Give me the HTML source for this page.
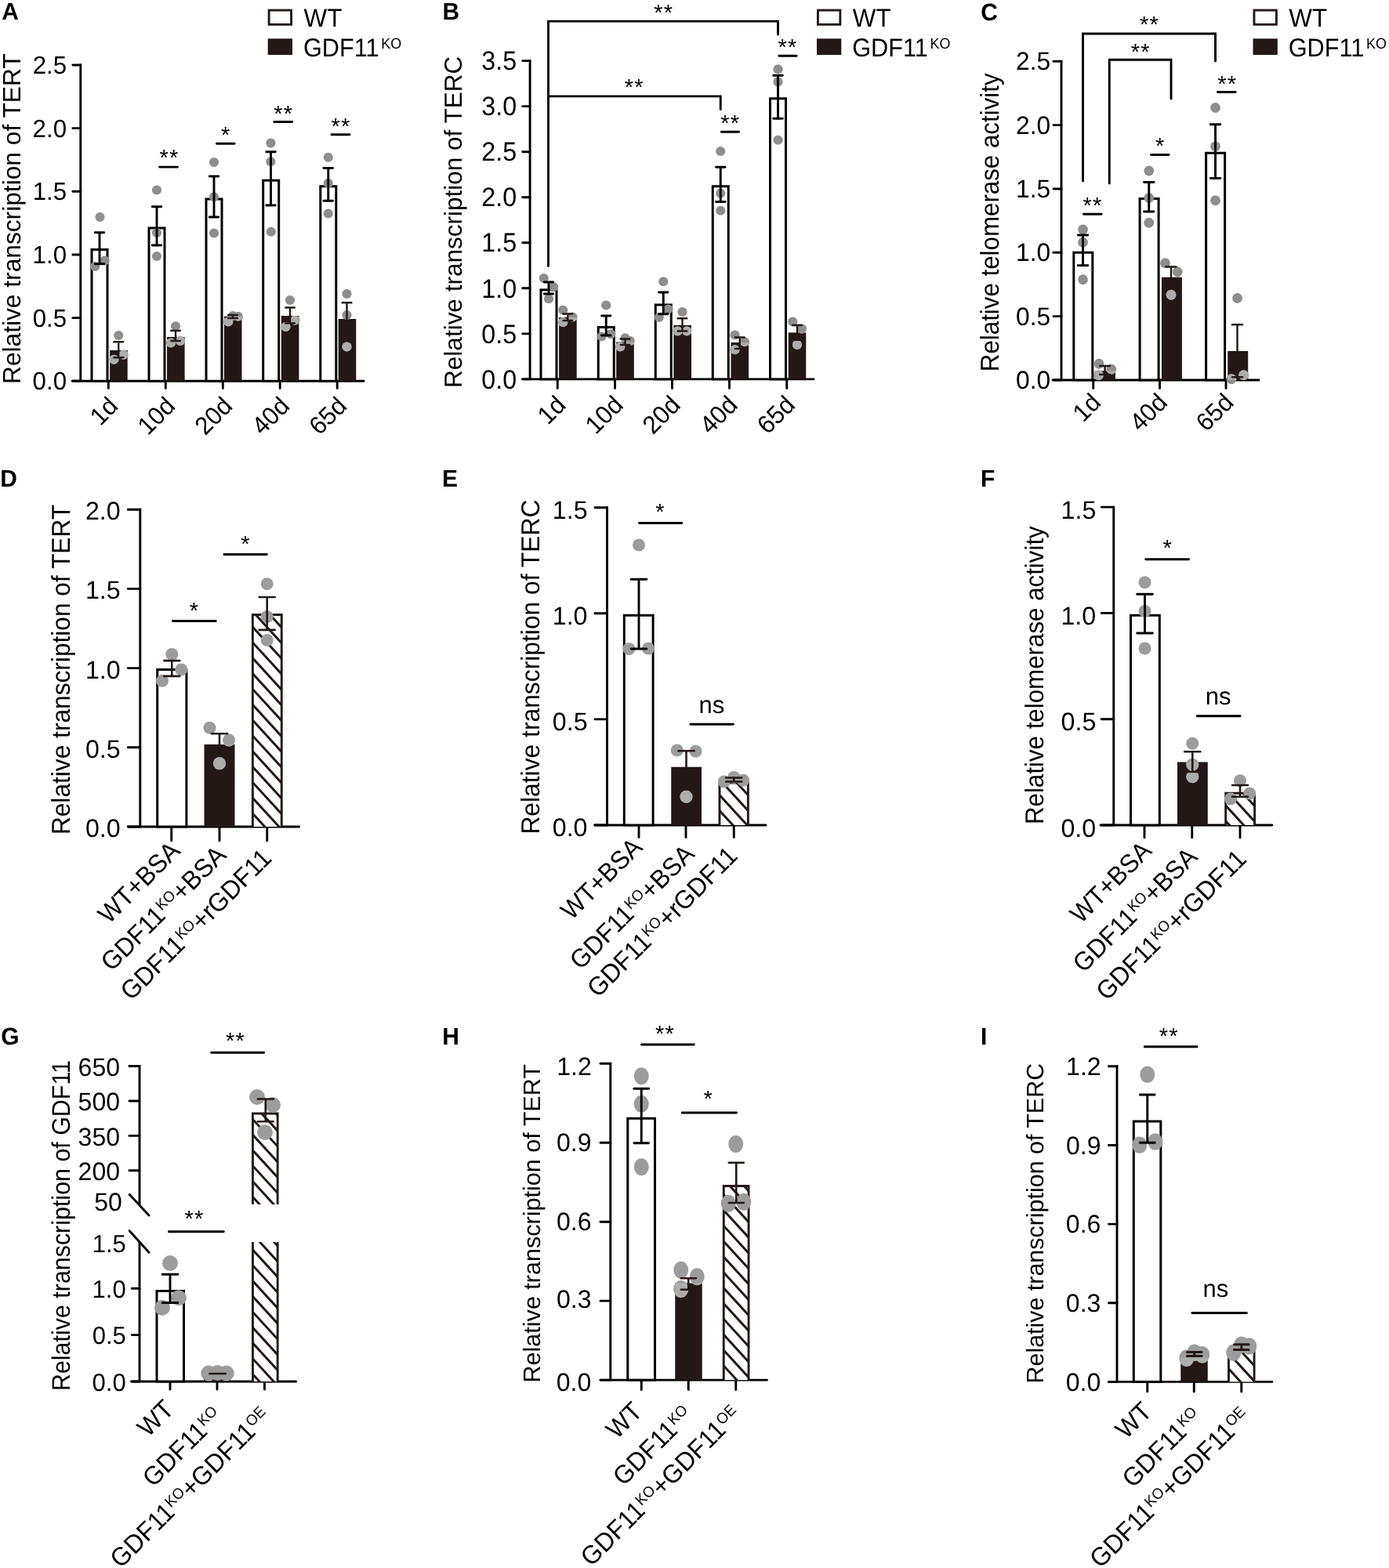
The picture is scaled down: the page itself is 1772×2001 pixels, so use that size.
<!DOCTYPE html>
<html lang="en"><head><meta charset="utf-8"><title>Figure</title><style>html,body{margin:0;padding:0;background:#fff}body{width:1772px;height:2001px;overflow:hidden}svg{display:block}</style></head><body>
<svg xmlns="http://www.w3.org/2000/svg" width="1772" height="2001" viewBox="0 0 1772 2001" font-family='"Liberation Sans", Arial, Helvetica, sans-serif' fill="#000000" text-rendering="geometricPrecision"><defs><clipPath id="c1"><rect x="140.1" y="447" width="22.6" height="39.3"/><rect x="213" y="430" width="22.6" height="56.3"/><rect x="285.9" y="403.75" width="22.6" height="82.55"/><rect x="358.8" y="403" width="22.6" height="83.3"/><rect x="431.7" y="407" width="22.6" height="79.3"/></clipPath><clipPath id="c2"><rect x="713.1" y="405" width="22.6" height="78.9"/><rect x="786.2" y="436.5" width="22.6" height="47.4"/><rect x="859.4" y="415" width="22.6" height="68.9"/><rect x="932.5" y="437" width="22.6" height="46.9"/><rect x="1005.7" y="424.4" width="22.6" height="59.5"/></clipPath><clipPath id="c3"><rect x="1396.9" y="473.3" width="26" height="11.7"/><rect x="1481.9" y="353.75" width="26" height="131.25"/><rect x="1566.2" y="448" width="26" height="37"/></clipPath><clipPath id="c4"><rect x="322.35" y="784.5" width="36.9" height="270.5"/></clipPath><clipPath id="c5"><rect x="260.5" y="950" width="39" height="105"/></clipPath><clipPath id="c6"><rect x="917.95" y="998.95" width="36.4" height="54.05"/></clipPath><clipPath id="c7"><rect x="856.25" y="978.75" width="38.75" height="74.25"/></clipPath><clipPath id="c8"><rect x="1563.65" y="1012.2" width="36.9" height="40.8"/></clipPath><clipPath id="c9"><rect x="1502" y="972.5" width="38.75" height="80.5"/></clipPath><clipPath id="c10"><rect x="322.45" y="1421.05" width="31.7" height="115.95"/></clipPath><clipPath id="c11"><rect x="322.45" y="1585" width="31.7" height="178"/></clipPath><clipPath id="c12"><rect x="923.25" y="1513.45" width="31.8" height="247.65"/></clipPath><clipPath id="c13"><rect x="861.25" y="1637.5" width="34.5" height="123.6"/></clipPath><clipPath id="c14"><rect x="1567.45" y="1723.95" width="32.6" height="39.45"/></clipPath><clipPath id="c15"><rect x="1506.25" y="1732.5" width="34.5" height="30.9"/></clipPath></defs>
<text transform="translate(2.35 25.31) scale(0.9770 1)" font-size="30.7" font-weight="bold">A</text>
<text transform="translate(26.2 490.01) rotate(-90)" font-size="32" textLength="421.62" lengthAdjust="spacingAndGlyphs">Relative transcription of TERT</text>
<rect x="343.15" y="13.05" width="28.4" height="18.2" fill="#fff" stroke="#231815" stroke-width="2.9"/>
<rect x="341.7" y="49.3" width="31.3" height="20.7" fill="#231815"/>
<text transform="translate(387.54 34.4) scale(0.9575 1)" font-size="32.8">WT</text>
<text transform="translate(386.97 72.4) scale(0.9350 1)" font-size="32.8">GDF11<tspan font-size="19.19" dx="2.95" dy="-10.3">KO</tspan></text>
<line x1="102.8" y1="81.5" x2="102.8" y2="486.3" stroke="#000000" stroke-width="2.9"/>
<line x1="92.85" y1="486.3" x2="102.8" y2="486.3" stroke="#000000" stroke-width="2.9" stroke-linecap="round"/>
<text transform="translate(41.57 497.3) scale(0.9780 1)" font-size="32">0.0</text>
<line x1="92.85" y1="405.63" x2="102.8" y2="405.63" stroke="#000000" stroke-width="2.9" stroke-linecap="round"/>
<text transform="translate(41.65 416.63) scale(0.9780 1)" font-size="32">0.5</text>
<line x1="92.85" y1="324.96" x2="102.8" y2="324.96" stroke="#000000" stroke-width="2.9" stroke-linecap="round"/>
<text transform="translate(41.57 335.96) scale(0.9780 1)" font-size="32">1.0</text>
<line x1="92.85" y1="244.29" x2="102.8" y2="244.29" stroke="#000000" stroke-width="2.9" stroke-linecap="round"/>
<text transform="translate(41.65 255.13) scale(0.9780 1)" font-size="32">1.5</text>
<line x1="92.85" y1="163.62" x2="102.8" y2="163.62" stroke="#000000" stroke-width="2.9" stroke-linecap="round"/>
<text transform="translate(41.57 174.62) scale(0.9780 1)" font-size="32">2.0</text>
<line x1="92.85" y1="82.95" x2="102.8" y2="82.95" stroke="#000000" stroke-width="2.9" stroke-linecap="round"/>
<text transform="translate(41.65 93.95) scale(0.9780 1)" font-size="32">2.5</text>
<line x1="92.25" y1="486.3" x2="464.05" y2="486.3" stroke="#000000" stroke-width="2.9" stroke-linecap="round"/>
<line x1="138.3" y1="486.3" x2="138.3" y2="495.45" stroke="#000000" stroke-width="2.9" stroke-linecap="round"/>
<line x1="211.3" y1="486.3" x2="211.3" y2="495.45" stroke="#000000" stroke-width="2.9" stroke-linecap="round"/>
<line x1="284.3" y1="486.3" x2="284.3" y2="495.45" stroke="#000000" stroke-width="2.9" stroke-linecap="round"/>
<line x1="357.2" y1="486.3" x2="357.2" y2="495.45" stroke="#000000" stroke-width="2.9" stroke-linecap="round"/>
<line x1="430.2" y1="486.3" x2="430.2" y2="495.45" stroke="#000000" stroke-width="2.9" stroke-linecap="round"/>
<rect x="117" y="318.5" width="20" height="167.8" fill="#fff" stroke="#000000" stroke-width="3"/>
<rect x="190" y="291" width="20" height="195.3" fill="#fff" stroke="#000000" stroke-width="3"/>
<rect x="263" y="254" width="20" height="232.3" fill="#fff" stroke="#000000" stroke-width="3"/>
<rect x="335.7" y="230.2" width="20" height="256.1" fill="#fff" stroke="#000000" stroke-width="3"/>
<rect x="408.8" y="237.75" width="20" height="248.55" fill="#fff" stroke="#000000" stroke-width="3"/>
<rect x="140.1" y="447" width="22.6" height="39.3" fill="#231815"/>
<rect x="213" y="430" width="22.6" height="56.3" fill="#231815"/>
<rect x="285.9" y="403.75" width="22.6" height="82.55" fill="#231815"/>
<rect x="358.8" y="403" width="22.6" height="83.3" fill="#231815"/>
<rect x="431.7" y="407" width="22.6" height="79.3" fill="#231815"/>
<g fill="#8e8e8e"><circle cx="127.5" cy="277" r="6.1"/><circle cx="121.25" cy="340" r="6.1"/><circle cx="133.75" cy="332.5" r="6.1"/><circle cx="151.25" cy="428" r="6.1"/><circle cx="145.4" cy="458.8" r="6.1"/><circle cx="157.6" cy="452.7" r="6.1"/><circle cx="200" cy="242.5" r="6.1"/><circle cx="200" cy="297" r="6.1"/><circle cx="200" cy="327" r="6.1"/><circle cx="224" cy="416.25" r="6.1"/><circle cx="218" cy="437.5" r="6.1"/><circle cx="230" cy="435" r="6.1"/><circle cx="273" cy="207" r="6.1"/><circle cx="273" cy="251.25" r="6.1"/><circle cx="273" cy="297.5" r="6.1"/><circle cx="291.25" cy="410.5" r="6.1"/><circle cx="297" cy="403" r="6.1"/><circle cx="303.75" cy="403.75" r="6.1"/><circle cx="345.4" cy="182.6" r="6.1"/><circle cx="345.4" cy="206.3" r="6.1"/><circle cx="345.75" cy="295.75" r="6.1"/><circle cx="370" cy="383" r="6.1"/><circle cx="364.5" cy="417" r="6.1"/><circle cx="376.25" cy="408.75" r="6.1"/><circle cx="418.75" cy="200.75" r="6.1"/><circle cx="418.75" cy="233.75" r="6.1"/><circle cx="418.75" cy="272.5" r="6.1"/><circle cx="442.5" cy="375" r="6.1"/><circle cx="442.5" cy="402" r="6.1"/><circle cx="442.5" cy="442.5" r="6.1"/></g>
<g fill="#adadad" clip-path="url(#c1)"><circle cx="127.5" cy="277" r="6.1"/><circle cx="121.25" cy="340" r="6.1"/><circle cx="133.75" cy="332.5" r="6.1"/><circle cx="151.25" cy="428" r="6.1"/><circle cx="145.4" cy="458.8" r="6.1"/><circle cx="157.6" cy="452.7" r="6.1"/><circle cx="200" cy="242.5" r="6.1"/><circle cx="200" cy="297" r="6.1"/><circle cx="200" cy="327" r="6.1"/><circle cx="224" cy="416.25" r="6.1"/><circle cx="218" cy="437.5" r="6.1"/><circle cx="230" cy="435" r="6.1"/><circle cx="273" cy="207" r="6.1"/><circle cx="273" cy="251.25" r="6.1"/><circle cx="273" cy="297.5" r="6.1"/><circle cx="291.25" cy="410.5" r="6.1"/><circle cx="297" cy="403" r="6.1"/><circle cx="303.75" cy="403.75" r="6.1"/><circle cx="345.4" cy="182.6" r="6.1"/><circle cx="345.4" cy="206.3" r="6.1"/><circle cx="345.75" cy="295.75" r="6.1"/><circle cx="370" cy="383" r="6.1"/><circle cx="364.5" cy="417" r="6.1"/><circle cx="376.25" cy="408.75" r="6.1"/><circle cx="418.75" cy="200.75" r="6.1"/><circle cx="418.75" cy="233.75" r="6.1"/><circle cx="418.75" cy="272.5" r="6.1"/><circle cx="442.5" cy="375" r="6.1"/><circle cx="442.5" cy="402" r="6.1"/><circle cx="442.5" cy="442.5" r="6.1"/></g>
<line x1="127" y1="296.75" x2="127" y2="336.75" stroke="#000000" stroke-width="2.9"/>
<line x1="121.25" y1="296.75" x2="132.75" y2="296.75" stroke="#000000" stroke-width="2.9" stroke-linecap="round"/>
<line x1="121.25" y1="336.75" x2="132.75" y2="336.75" stroke="#000000" stroke-width="2.9" stroke-linecap="round"/>
<line x1="200" y1="263.75" x2="200" y2="313" stroke="#000000" stroke-width="2.9"/>
<line x1="194.25" y1="263.75" x2="205.75" y2="263.75" stroke="#000000" stroke-width="2.9" stroke-linecap="round"/>
<line x1="194.25" y1="313" x2="205.75" y2="313" stroke="#000000" stroke-width="2.9" stroke-linecap="round"/>
<line x1="273" y1="225" x2="273" y2="277" stroke="#000000" stroke-width="2.9"/>
<line x1="267.25" y1="225" x2="278.75" y2="225" stroke="#000000" stroke-width="2.9" stroke-linecap="round"/>
<line x1="267.25" y1="277" x2="278.75" y2="277" stroke="#000000" stroke-width="2.9" stroke-linecap="round"/>
<line x1="345.5" y1="193.8" x2="345.5" y2="262" stroke="#000000" stroke-width="2.9"/>
<line x1="339.75" y1="193.8" x2="351.25" y2="193.8" stroke="#000000" stroke-width="2.9" stroke-linecap="round"/>
<line x1="339.75" y1="262" x2="351.25" y2="262" stroke="#000000" stroke-width="2.9" stroke-linecap="round"/>
<line x1="418.75" y1="214.5" x2="418.75" y2="256.25" stroke="#000000" stroke-width="2.9"/>
<line x1="413" y1="214.5" x2="424.5" y2="214.5" stroke="#000000" stroke-width="2.9" stroke-linecap="round"/>
<line x1="413" y1="256.25" x2="424.5" y2="256.25" stroke="#000000" stroke-width="2.9" stroke-linecap="round"/>
<line x1="151.25" y1="436.25" x2="151.25" y2="456.2" stroke="#231815" stroke-width="2.4"/>
<line x1="145.45" y1="436.25" x2="157.05" y2="436.25" stroke="#231815" stroke-width="2.4" stroke-linecap="round"/>
<line x1="145.45" y1="456.2" x2="157.05" y2="456.2" stroke="#231815" stroke-width="2.4" stroke-linecap="round"/>
<line x1="224" y1="422" x2="224" y2="435" stroke="#231815" stroke-width="2.4"/>
<line x1="218.2" y1="422" x2="229.8" y2="422" stroke="#231815" stroke-width="2.4" stroke-linecap="round"/>
<line x1="218.2" y1="435" x2="229.8" y2="435" stroke="#231815" stroke-width="2.4" stroke-linecap="round"/>
<line x1="297" y1="402" x2="297" y2="406" stroke="#231815" stroke-width="2.4"/>
<line x1="291.2" y1="402" x2="302.8" y2="402" stroke="#231815" stroke-width="2.4" stroke-linecap="round"/>
<line x1="291.2" y1="406" x2="302.8" y2="406" stroke="#231815" stroke-width="2.4" stroke-linecap="round"/>
<line x1="370" y1="392.5" x2="370" y2="412.5" stroke="#231815" stroke-width="2.4"/>
<line x1="364.2" y1="392.5" x2="375.8" y2="392.5" stroke="#231815" stroke-width="2.4" stroke-linecap="round"/>
<line x1="364.2" y1="412.5" x2="375.8" y2="412.5" stroke="#231815" stroke-width="2.4" stroke-linecap="round"/>
<line x1="442.5" y1="386.25" x2="442.5" y2="428" stroke="#231815" stroke-width="2.4"/>
<line x1="436.7" y1="386.25" x2="448.3" y2="386.25" stroke="#231815" stroke-width="2.4" stroke-linecap="round"/>
<line x1="436.7" y1="428" x2="448.3" y2="428" stroke="#231815" stroke-width="2.4" stroke-linecap="round"/>
<line x1="203.55" y1="213.1" x2="226.55" y2="213.1" stroke="#000000" stroke-width="2.9" stroke-linecap="round"/>
<text transform="translate(203.39 211.24)" font-size="29" letter-spacing="1.2">**</text>
<line x1="276.45" y1="183.25" x2="299.05" y2="183.25" stroke="#000000" stroke-width="2.9" stroke-linecap="round"/>
<text transform="translate(282.05 182.24)" font-size="29">*</text>
<line x1="349.75" y1="155.5" x2="372.55" y2="155.5" stroke="#000000" stroke-width="2.9" stroke-linecap="round"/>
<text transform="translate(349.34 154.74)" font-size="29" letter-spacing="1.2">**</text>
<line x1="422.95" y1="171.75" x2="446.05" y2="171.75" stroke="#000000" stroke-width="2.9" stroke-linecap="round"/>
<text transform="translate(422.59 170.74)" font-size="29" letter-spacing="1.2">**</text>
<text transform="translate(152.3 520) rotate(-45) scale(0.9700 1)" font-size="32" text-anchor="end">1d</text>
<text transform="translate(225.3 520) rotate(-45) scale(0.9700 1)" font-size="32" text-anchor="end">10d</text>
<text transform="translate(298.3 520) rotate(-45) scale(0.9700 1)" font-size="32" text-anchor="end">20d</text>
<text transform="translate(371.2 520) rotate(-45) scale(0.9700 1)" font-size="32" text-anchor="end">40d</text>
<text transform="translate(444.2 520) rotate(-45) scale(0.9700 1)" font-size="32" text-anchor="end">65d</text>
<text transform="translate(564.58 25.31) scale(0.9770 1)" font-size="30.7" font-weight="bold">B</text>
<text transform="translate(588.6 494.9) rotate(-90)" font-size="31.5" textLength="423.05" lengthAdjust="spacingAndGlyphs">Relative transcription of TERC</text>
<rect x="1043.45" y="13.05" width="28.4" height="18.2" fill="#fff" stroke="#231815" stroke-width="2.9"/>
<rect x="1042" y="49.3" width="31.3" height="20.7" fill="#231815"/>
<text transform="translate(1087.84 34.4) scale(0.9575 1)" font-size="32.8">WT</text>
<text transform="translate(1087.27 72.4) scale(0.9350 1)" font-size="32.8">GDF11<tspan font-size="19.19" dx="2.95" dy="-10.3">KO</tspan></text>
<line x1="676.1" y1="76.17" x2="676.1" y2="483.9" stroke="#000000" stroke-width="2.9"/>
<line x1="666.75" y1="483.9" x2="676.1" y2="483.9" stroke="#000000" stroke-width="2.9" stroke-linecap="round"/>
<text transform="translate(614.21 495.59) scale(0.9500 1)" font-size="34">0.0</text>
<line x1="666.75" y1="425.86" x2="676.1" y2="425.86" stroke="#000000" stroke-width="2.9" stroke-linecap="round"/>
<text transform="translate(614.29 437.55) scale(0.9500 1)" font-size="34">0.5</text>
<line x1="666.75" y1="367.82" x2="676.1" y2="367.82" stroke="#000000" stroke-width="2.9" stroke-linecap="round"/>
<text transform="translate(614.21 379.51) scale(0.9500 1)" font-size="34">1.0</text>
<line x1="666.75" y1="309.78" x2="676.1" y2="309.78" stroke="#000000" stroke-width="2.9" stroke-linecap="round"/>
<text transform="translate(614.29 321.3) scale(0.9500 1)" font-size="34">1.5</text>
<line x1="666.75" y1="251.74" x2="676.1" y2="251.74" stroke="#000000" stroke-width="2.9" stroke-linecap="round"/>
<text transform="translate(614.21 263.43) scale(0.9500 1)" font-size="34">2.0</text>
<line x1="666.75" y1="193.7" x2="676.1" y2="193.7" stroke="#000000" stroke-width="2.9" stroke-linecap="round"/>
<text transform="translate(614.29 205.39) scale(0.9500 1)" font-size="34">2.5</text>
<line x1="666.75" y1="135.66" x2="676.1" y2="135.66" stroke="#000000" stroke-width="2.9" stroke-linecap="round"/>
<text transform="translate(614.21 147.35) scale(0.9500 1)" font-size="34">3.0</text>
<line x1="666.75" y1="77.62" x2="676.1" y2="77.62" stroke="#000000" stroke-width="2.9" stroke-linecap="round"/>
<text transform="translate(614.29 89.31) scale(0.9500 1)" font-size="34">3.5</text>
<line x1="666.45" y1="483.9" x2="1038.05" y2="483.9" stroke="#000000" stroke-width="2.9" stroke-linecap="round"/>
<line x1="711.25" y1="483.9" x2="711.25" y2="495.55" stroke="#000000" stroke-width="2.9" stroke-linecap="round"/>
<line x1="784.5" y1="483.9" x2="784.5" y2="495.55" stroke="#000000" stroke-width="2.9" stroke-linecap="round"/>
<line x1="857.5" y1="483.9" x2="857.5" y2="495.55" stroke="#000000" stroke-width="2.9" stroke-linecap="round"/>
<line x1="930.5" y1="483.9" x2="930.5" y2="495.55" stroke="#000000" stroke-width="2.9" stroke-linecap="round"/>
<line x1="1003.75" y1="483.9" x2="1003.75" y2="495.55" stroke="#000000" stroke-width="2.9" stroke-linecap="round"/>
<rect x="690" y="369.9" width="20" height="114" fill="#fff" stroke="#000000" stroke-width="3"/>
<rect x="763.25" y="417.6" width="20" height="66.3" fill="#fff" stroke="#000000" stroke-width="3"/>
<rect x="836.25" y="389" width="20" height="94.9" fill="#fff" stroke="#000000" stroke-width="3"/>
<rect x="909.25" y="237.75" width="20" height="246.15" fill="#fff" stroke="#000000" stroke-width="3"/>
<rect x="982.5" y="125.75" width="20" height="358.15" fill="#fff" stroke="#000000" stroke-width="3"/>
<rect x="713.1" y="405" width="22.6" height="78.9" fill="#231815"/>
<rect x="786.2" y="436.5" width="22.6" height="47.4" fill="#231815"/>
<rect x="859.4" y="415" width="22.6" height="68.9" fill="#231815"/>
<rect x="932.5" y="437" width="22.6" height="46.9" fill="#231815"/>
<rect x="1005.7" y="424.4" width="22.6" height="59.5" fill="#231815"/>
<g fill="#8e8e8e"><circle cx="693.75" cy="355" r="6.1"/><circle cx="706.25" cy="366.25" r="6.1"/><circle cx="700" cy="381.25" r="6.1"/><circle cx="718.25" cy="395.75" r="6.1"/><circle cx="718.25" cy="411.25" r="6.1"/><circle cx="730.5" cy="404.5" r="6.1"/><circle cx="773.25" cy="389.5" r="6.1"/><circle cx="767.5" cy="429.5" r="6.1"/><circle cx="779.25" cy="426.25" r="6.1"/><circle cx="797.5" cy="431.25" r="6.1"/><circle cx="791.25" cy="442.5" r="6.1"/><circle cx="803.75" cy="435" r="6.1"/><circle cx="846.25" cy="359.25" r="6.1"/><circle cx="840.75" cy="405" r="6.1"/><circle cx="852.5" cy="394.5" r="6.1"/><circle cx="870.5" cy="398" r="6.1"/><circle cx="864.5" cy="422.5" r="6.1"/><circle cx="876.25" cy="422.5" r="6.1"/><circle cx="919.25" cy="193" r="6.1"/><circle cx="919.25" cy="246.75" r="6.1"/><circle cx="919.25" cy="268.75" r="6.1"/><circle cx="937.5" cy="427.5" r="6.1"/><circle cx="937.5" cy="446.25" r="6.1"/><circle cx="950" cy="436.25" r="6.1"/><circle cx="992.5" cy="88.25" r="6.1"/><circle cx="992.5" cy="104.5" r="6.1"/><circle cx="992.5" cy="178.75" r="6.1"/><circle cx="1011.25" cy="410.5" r="6.1"/><circle cx="1023" cy="419.5" r="6.1"/><circle cx="1017" cy="440" r="6.1"/></g>
<g fill="#adadad" clip-path="url(#c2)"><circle cx="693.75" cy="355" r="6.1"/><circle cx="706.25" cy="366.25" r="6.1"/><circle cx="700" cy="381.25" r="6.1"/><circle cx="718.25" cy="395.75" r="6.1"/><circle cx="718.25" cy="411.25" r="6.1"/><circle cx="730.5" cy="404.5" r="6.1"/><circle cx="773.25" cy="389.5" r="6.1"/><circle cx="767.5" cy="429.5" r="6.1"/><circle cx="779.25" cy="426.25" r="6.1"/><circle cx="797.5" cy="431.25" r="6.1"/><circle cx="791.25" cy="442.5" r="6.1"/><circle cx="803.75" cy="435" r="6.1"/><circle cx="846.25" cy="359.25" r="6.1"/><circle cx="840.75" cy="405" r="6.1"/><circle cx="852.5" cy="394.5" r="6.1"/><circle cx="870.5" cy="398" r="6.1"/><circle cx="864.5" cy="422.5" r="6.1"/><circle cx="876.25" cy="422.5" r="6.1"/><circle cx="919.25" cy="193" r="6.1"/><circle cx="919.25" cy="246.75" r="6.1"/><circle cx="919.25" cy="268.75" r="6.1"/><circle cx="937.5" cy="427.5" r="6.1"/><circle cx="937.5" cy="446.25" r="6.1"/><circle cx="950" cy="436.25" r="6.1"/><circle cx="992.5" cy="88.25" r="6.1"/><circle cx="992.5" cy="104.5" r="6.1"/><circle cx="992.5" cy="178.75" r="6.1"/><circle cx="1011.25" cy="410.5" r="6.1"/><circle cx="1023" cy="419.5" r="6.1"/><circle cx="1017" cy="440" r="6.1"/></g>
<line x1="700" y1="360" x2="700" y2="375" stroke="#000000" stroke-width="2.9"/>
<line x1="694.25" y1="360" x2="705.75" y2="360" stroke="#000000" stroke-width="2.9" stroke-linecap="round"/>
<line x1="694.25" y1="375" x2="705.75" y2="375" stroke="#000000" stroke-width="2.9" stroke-linecap="round"/>
<line x1="773.25" y1="403" x2="773.25" y2="428" stroke="#000000" stroke-width="2.9"/>
<line x1="767.5" y1="403" x2="779" y2="403" stroke="#000000" stroke-width="2.9" stroke-linecap="round"/>
<line x1="767.5" y1="428" x2="779" y2="428" stroke="#000000" stroke-width="2.9" stroke-linecap="round"/>
<line x1="846.25" y1="373" x2="846.25" y2="400.75" stroke="#000000" stroke-width="2.9"/>
<line x1="840.5" y1="373" x2="852" y2="373" stroke="#000000" stroke-width="2.9" stroke-linecap="round"/>
<line x1="840.5" y1="400.75" x2="852" y2="400.75" stroke="#000000" stroke-width="2.9" stroke-linecap="round"/>
<line x1="919.25" y1="213.25" x2="919.25" y2="257.5" stroke="#000000" stroke-width="2.9"/>
<line x1="913.5" y1="213.25" x2="925" y2="213.25" stroke="#000000" stroke-width="2.9" stroke-linecap="round"/>
<line x1="913.5" y1="257.5" x2="925" y2="257.5" stroke="#000000" stroke-width="2.9" stroke-linecap="round"/>
<line x1="992.5" y1="96.25" x2="992.5" y2="151.25" stroke="#000000" stroke-width="2.9"/>
<line x1="986.75" y1="96.25" x2="998.25" y2="96.25" stroke="#000000" stroke-width="2.9" stroke-linecap="round"/>
<line x1="986.75" y1="151.25" x2="998.25" y2="151.25" stroke="#000000" stroke-width="2.9" stroke-linecap="round"/>
<line x1="724.25" y1="400.5" x2="724.25" y2="409" stroke="#231815" stroke-width="2.4"/>
<line x1="718.45" y1="400.5" x2="730.05" y2="400.5" stroke="#231815" stroke-width="2.4" stroke-linecap="round"/>
<line x1="718.45" y1="409" x2="730.05" y2="409" stroke="#231815" stroke-width="2.4" stroke-linecap="round"/>
<line x1="797.5" y1="432.5" x2="797.5" y2="440" stroke="#231815" stroke-width="2.4"/>
<line x1="791.7" y1="432.5" x2="803.3" y2="432.5" stroke="#231815" stroke-width="2.4" stroke-linecap="round"/>
<line x1="791.7" y1="440" x2="803.3" y2="440" stroke="#231815" stroke-width="2.4" stroke-linecap="round"/>
<line x1="870.5" y1="406.25" x2="870.5" y2="422.5" stroke="#231815" stroke-width="2.4"/>
<line x1="864.7" y1="406.25" x2="876.3" y2="406.25" stroke="#231815" stroke-width="2.4" stroke-linecap="round"/>
<line x1="864.7" y1="422.5" x2="876.3" y2="422.5" stroke="#231815" stroke-width="2.4" stroke-linecap="round"/>
<line x1="943.75" y1="430.5" x2="943.75" y2="445" stroke="#231815" stroke-width="2.4"/>
<line x1="937.95" y1="430.5" x2="949.55" y2="430.5" stroke="#231815" stroke-width="2.4" stroke-linecap="round"/>
<line x1="937.95" y1="445" x2="949.55" y2="445" stroke="#231815" stroke-width="2.4" stroke-linecap="round"/>
<line x1="1017" y1="415" x2="1017" y2="433.75" stroke="#231815" stroke-width="2.4"/>
<line x1="1011.2" y1="415" x2="1022.8" y2="415" stroke="#231815" stroke-width="2.4" stroke-linecap="round"/>
<line x1="1011.2" y1="433.75" x2="1022.8" y2="433.75" stroke="#231815" stroke-width="2.4" stroke-linecap="round"/>
<polyline points="699.5,339.55 699.5,27.1 992.5,27.1 992.5,44.05" fill="none" stroke="#000000" stroke-width="2.9" stroke-linejoin="miter" stroke-linecap="round"/>
<polyline points="699.5,122.9 919.25,122.9 919.25,139.55" fill="none" stroke="#000" stroke-width="2.9" stroke-linecap="round"/>
<text transform="translate(834.34 25.94)" font-size="29" letter-spacing="1.2">**</text>
<text transform="translate(796.84 121.44)" font-size="29" letter-spacing="1.2">**</text>
<line x1="920.45" y1="168.25" x2="942.55" y2="168.25" stroke="#000000" stroke-width="2.9" stroke-linecap="round"/>
<text transform="translate(919.34 167.44)" font-size="29" letter-spacing="1.2">**</text>
<line x1="993.95" y1="71.25" x2="1016.05" y2="71.25" stroke="#000000" stroke-width="2.9" stroke-linecap="round"/>
<text transform="translate(992.59 70.44)" font-size="29" letter-spacing="1.2">**</text>
<text transform="translate(723.65 518.6) rotate(-45) scale(0.9700 1)" font-size="32.3" text-anchor="end">1d</text>
<text transform="translate(796.9 518.6) rotate(-45) scale(0.9700 1)" font-size="32.3" text-anchor="end">10d</text>
<text transform="translate(869.9 518.6) rotate(-45) scale(0.9700 1)" font-size="32.3" text-anchor="end">20d</text>
<text transform="translate(942.9 518.6) rotate(-45) scale(0.9700 1)" font-size="32.3" text-anchor="end">40d</text>
<text transform="translate(1016.15 518.6) rotate(-45) scale(0.9700 1)" font-size="32.3" text-anchor="end">65d</text>
<text transform="translate(1251.3 25.61) scale(0.9770 1)" font-size="30.7" font-weight="bold">C</text>
<text transform="translate(1274.2 474.18) rotate(-90)" font-size="33" textLength="380.74" lengthAdjust="spacingAndGlyphs">Relative telomerase activity</text>
<rect x="1599.95" y="13.05" width="28.4" height="18.2" fill="#fff" stroke="#231815" stroke-width="2.9"/>
<rect x="1598.5" y="49.3" width="31.3" height="20.7" fill="#231815"/>
<text transform="translate(1644.34 34.4) scale(0.9575 1)" font-size="32.8">WT</text>
<text transform="translate(1643.77 72.4) scale(0.9350 1)" font-size="32.8">GDF11<tspan font-size="19.19" dx="2.95" dy="-10.3">KO</tspan></text>
<line x1="1354" y1="76.8" x2="1354" y2="485" stroke="#000000" stroke-width="2.9"/>
<line x1="1343.95" y1="485" x2="1354" y2="485" stroke="#000000" stroke-width="2.9" stroke-linecap="round"/>
<text transform="translate(1296.01 496.17) scale(0.9780 1)" font-size="32.5">0.0</text>
<line x1="1343.95" y1="403.65" x2="1354" y2="403.65" stroke="#000000" stroke-width="2.9" stroke-linecap="round"/>
<text transform="translate(1296.09 414.82) scale(0.9780 1)" font-size="32.5">0.5</text>
<line x1="1343.95" y1="322.3" x2="1354" y2="322.3" stroke="#000000" stroke-width="2.9" stroke-linecap="round"/>
<text transform="translate(1296.01 333.47) scale(0.9780 1)" font-size="32.5">1.0</text>
<line x1="1343.95" y1="240.95" x2="1354" y2="240.95" stroke="#000000" stroke-width="2.9" stroke-linecap="round"/>
<text transform="translate(1296.09 251.96) scale(0.9780 1)" font-size="32.5">1.5</text>
<line x1="1343.95" y1="159.6" x2="1354" y2="159.6" stroke="#000000" stroke-width="2.9" stroke-linecap="round"/>
<text transform="translate(1296.01 170.77) scale(0.9780 1)" font-size="32.5">2.0</text>
<line x1="1343.95" y1="78.25" x2="1354" y2="78.25" stroke="#000000" stroke-width="2.9" stroke-linecap="round"/>
<text transform="translate(1296.09 89.42) scale(0.9780 1)" font-size="32.5">2.5</text>
<line x1="1343.15" y1="485" x2="1606.05" y2="485" stroke="#000000" stroke-width="2.9" stroke-linecap="round"/>
<line x1="1394.75" y1="485" x2="1394.75" y2="495.55" stroke="#000000" stroke-width="2.9" stroke-linecap="round"/>
<line x1="1479.5" y1="485" x2="1479.5" y2="495.55" stroke="#000000" stroke-width="2.9" stroke-linecap="round"/>
<line x1="1564" y1="485" x2="1564" y2="495.55" stroke="#000000" stroke-width="2.9" stroke-linecap="round"/>
<rect x="1369.8" y="322.25" width="24" height="162.75" fill="#fff" stroke="#000000" stroke-width="3"/>
<rect x="1454.1" y="253.5" width="24" height="231.5" fill="#fff" stroke="#000000" stroke-width="3"/>
<rect x="1538.6" y="195.25" width="24" height="289.75" fill="#fff" stroke="#000000" stroke-width="3"/>
<rect x="1396.9" y="473.3" width="26" height="11.7" fill="#231815"/>
<rect x="1481.9" y="353.75" width="26" height="131.25" fill="#231815"/>
<rect x="1566.2" y="448" width="26" height="37" fill="#231815"/>
<g fill="#8e8e8e"><circle cx="1381.5" cy="293" r="6.4"/><circle cx="1381.5" cy="309.25" r="6.4"/><circle cx="1381.5" cy="356.75" r="6.4"/><circle cx="1402" cy="464.25" r="6.4"/><circle cx="1417.75" cy="471.25" r="6.4"/><circle cx="1401.5" cy="478.75" r="6.4"/><circle cx="1465.75" cy="218" r="6.4"/><circle cx="1465.75" cy="252.5" r="6.4"/><circle cx="1465.75" cy="284.25" r="6.4"/><circle cx="1486.5" cy="335.75" r="6.4"/><circle cx="1502.25" cy="347" r="6.4"/><circle cx="1494" cy="376.25" r="6.4"/><circle cx="1550.5" cy="137.5" r="6.4"/><circle cx="1550.5" cy="186.75" r="6.4"/><circle cx="1550.5" cy="255.75" r="6.4"/><circle cx="1578.5" cy="380.5" r="6.4"/><circle cx="1571" cy="483.75" r="6.4"/><circle cx="1586.5" cy="478.75" r="6.4"/></g>
<g fill="#adadad" clip-path="url(#c3)"><circle cx="1381.5" cy="293" r="6.4"/><circle cx="1381.5" cy="309.25" r="6.4"/><circle cx="1381.5" cy="356.75" r="6.4"/><circle cx="1402" cy="464.25" r="6.4"/><circle cx="1417.75" cy="471.25" r="6.4"/><circle cx="1401.5" cy="478.75" r="6.4"/><circle cx="1465.75" cy="218" r="6.4"/><circle cx="1465.75" cy="252.5" r="6.4"/><circle cx="1465.75" cy="284.25" r="6.4"/><circle cx="1486.5" cy="335.75" r="6.4"/><circle cx="1502.25" cy="347" r="6.4"/><circle cx="1494" cy="376.25" r="6.4"/><circle cx="1550.5" cy="137.5" r="6.4"/><circle cx="1550.5" cy="186.75" r="6.4"/><circle cx="1550.5" cy="255.75" r="6.4"/><circle cx="1578.5" cy="380.5" r="6.4"/><circle cx="1571" cy="483.75" r="6.4"/><circle cx="1586.5" cy="478.75" r="6.4"/></g>
<line x1="1381.5" y1="300" x2="1381.5" y2="338.75" stroke="#000000" stroke-width="2.9"/>
<line x1="1375.25" y1="300" x2="1387.75" y2="300" stroke="#000000" stroke-width="2.9" stroke-linecap="round"/>
<line x1="1375.25" y1="338.75" x2="1387.75" y2="338.75" stroke="#000000" stroke-width="2.9" stroke-linecap="round"/>
<line x1="1465.75" y1="232.5" x2="1465.75" y2="270" stroke="#000000" stroke-width="2.9"/>
<line x1="1459.5" y1="232.5" x2="1472" y2="232.5" stroke="#000000" stroke-width="2.9" stroke-linecap="round"/>
<line x1="1459.5" y1="270" x2="1472" y2="270" stroke="#000000" stroke-width="2.9" stroke-linecap="round"/>
<line x1="1550.5" y1="158.75" x2="1550.5" y2="227.5" stroke="#000000" stroke-width="2.9"/>
<line x1="1544.25" y1="158.75" x2="1556.75" y2="158.75" stroke="#000000" stroke-width="2.9" stroke-linecap="round"/>
<line x1="1544.25" y1="227.5" x2="1556.75" y2="227.5" stroke="#000000" stroke-width="2.9" stroke-linecap="round"/>
<line x1="1409.5" y1="467" x2="1409.5" y2="478" stroke="#231815" stroke-width="2.4"/>
<line x1="1403" y1="467" x2="1416" y2="467" stroke="#231815" stroke-width="2.4" stroke-linecap="round"/>
<line x1="1403" y1="478" x2="1416" y2="478" stroke="#231815" stroke-width="2.4" stroke-linecap="round"/>
<line x1="1494" y1="340.5" x2="1494" y2="367.5" stroke="#231815" stroke-width="2.4"/>
<line x1="1487.5" y1="340.5" x2="1500.5" y2="340.5" stroke="#231815" stroke-width="2.4" stroke-linecap="round"/>
<line x1="1487.5" y1="367.5" x2="1500.5" y2="367.5" stroke="#231815" stroke-width="2.4" stroke-linecap="round"/>
<line x1="1578.5" y1="414.25" x2="1578.5" y2="481.25" stroke="#231815" stroke-width="2.4"/>
<line x1="1572" y1="414.25" x2="1585" y2="414.25" stroke="#231815" stroke-width="2.4" stroke-linecap="round"/>
<line x1="1572" y1="481.25" x2="1585" y2="481.25" stroke="#231815" stroke-width="2.4" stroke-linecap="round"/>
<polyline points="1381.5,231.05 1381.5,43 1550.5,43 1550.5,78.05" fill="none" stroke="#000000" stroke-width="2.9" stroke-linejoin="miter" stroke-linecap="round"/>
<text transform="translate(1454.09 41.24)" font-size="29" letter-spacing="1.2">**</text>
<polyline points="1415.25,234.05 1415.25,76.25 1494,76.25 1494,126.05" fill="none" stroke="#000000" stroke-width="2.9" stroke-linejoin="miter" stroke-linecap="round"/>
<text transform="translate(1442.84 75.74)" font-size="29" letter-spacing="1.2">**</text>
<line x1="1382.45" y1="273.25" x2="1405.05" y2="273.25" stroke="#000000" stroke-width="2.9" stroke-linecap="round"/>
<text transform="translate(1381.59 272.44)" font-size="29" letter-spacing="1.2">**</text>
<line x1="1468.45" y1="197.5" x2="1491.05" y2="197.5" stroke="#000000" stroke-width="2.9" stroke-linecap="round"/>
<text transform="translate(1474.1 195.74)" font-size="29">*</text>
<line x1="1553.45" y1="117.5" x2="1576.05" y2="117.5" stroke="#000000" stroke-width="2.9" stroke-linecap="round"/>
<text transform="translate(1553.34 116.94)" font-size="29" letter-spacing="1.2">**</text>
<text transform="translate(1406.25 515.5) rotate(-45) scale(0.9700 1)" font-size="32" text-anchor="end">1d</text>
<text transform="translate(1491 515.5) rotate(-45) scale(0.9700 1)" font-size="32" text-anchor="end">40d</text>
<text transform="translate(1575.5 515.5) rotate(-45) scale(0.9700 1)" font-size="32" text-anchor="end">65d</text>
<text transform="translate(0.28 621.21) scale(0.9770 1)" font-size="30.7" font-weight="bold">D</text>
<text transform="translate(89.3 1065.11) rotate(-90)" font-size="33" textLength="421.22" lengthAdjust="spacingAndGlyphs">Relative transcription of TERT</text>
<line x1="178.8" y1="648.75" x2="178.8" y2="1055" stroke="#000000" stroke-width="2.9"/>
<line x1="163.3" y1="1055" x2="178.8" y2="1055" stroke="#000000" stroke-width="2.9" stroke-linecap="round"/>
<text transform="translate(108.88 1068.17) scale(0.9900 1)" font-size="32.5">0.0</text>
<line x1="163.3" y1="953.8" x2="178.8" y2="953.8" stroke="#000000" stroke-width="2.9" stroke-linecap="round"/>
<text transform="translate(108.96 966.97) scale(0.9900 1)" font-size="32.5">0.5</text>
<line x1="163.3" y1="852.6" x2="178.8" y2="852.6" stroke="#000000" stroke-width="2.9" stroke-linecap="round"/>
<text transform="translate(108.88 865.77) scale(0.9900 1)" font-size="32.5">1.0</text>
<line x1="163.3" y1="751.4" x2="178.8" y2="751.4" stroke="#000000" stroke-width="2.9" stroke-linecap="round"/>
<text transform="translate(108.96 764.41) scale(0.9900 1)" font-size="32.5">1.5</text>
<line x1="163.3" y1="650.2" x2="178.8" y2="650.2" stroke="#000000" stroke-width="2.9" stroke-linecap="round"/>
<text transform="translate(108.88 663.37) scale(0.9900 1)" font-size="32.5">2.0</text>
<line x1="163.45" y1="1055" x2="381.55" y2="1055" stroke="#000000" stroke-width="2.9" stroke-linecap="round"/>
<line x1="218.75" y1="1055" x2="218.75" y2="1073.05" stroke="#000000" stroke-width="2.9" stroke-linecap="round"/>
<line x1="280" y1="1055" x2="280" y2="1073.05" stroke="#000000" stroke-width="2.9" stroke-linecap="round"/>
<line x1="340.75" y1="1055" x2="340.75" y2="1073.05" stroke="#000000" stroke-width="2.9" stroke-linecap="round"/>
<rect x="200.7" y="854.5" width="37.2" height="200.5" fill="#fff" stroke="#000000" stroke-width="3"/>
<rect x="260.5" y="950" width="39" height="105" fill="#231815"/>
<rect x="322.35" y="784.5" width="36.9" height="270.5" fill="#fff"/>
<path d="M359.78 781.5L362.25 784.2M341.6 781.5L362.25 804.04M323.43 781.5L362.25 823.87M319.35 796.89L362.25 843.7M319.35 816.72L362.25 863.54M319.35 836.56L362.25 883.37M319.35 856.39L362.25 903.21M319.35 876.23L362.25 923.04M319.35 896.06L362.25 942.88M319.35 915.89L362.25 962.71M319.35 935.73L362.25 982.55M319.35 955.56L362.25 1002.38M319.35 975.4L362.25 1022.22M319.35 995.23L362.25 1042.05M319.35 1015.07L358.69 1058M319.35 1034.9L340.52 1058M319.35 1054.74L322.34 1058" fill="none" stroke="#231815" stroke-width="3" clip-path="url(#c4)"/>
<polyline points="322.35,1055 322.35,784.5 359.25,784.5 359.25,1055" fill="none" stroke="#231815" stroke-width="2.9" stroke-linejoin="miter"/>
<g fill="#9c9c9c"><circle cx="219.3" cy="835" r="8"/><circle cx="231.3" cy="854.4" r="8"/><circle cx="207" cy="868.8" r="8"/><circle cx="267.5" cy="928.75" r="8"/><circle cx="292" cy="944.5" r="8"/><circle cx="280" cy="974.25" r="8"/><circle cx="340.7" cy="745.2" r="8"/><circle cx="340.7" cy="787" r="8"/><circle cx="340.7" cy="816.9" r="8"/></g>
<g fill="#adadad" clip-path="url(#c5)"><circle cx="219.3" cy="835" r="8"/><circle cx="231.3" cy="854.4" r="8"/><circle cx="207" cy="868.8" r="8"/><circle cx="267.5" cy="928.75" r="8"/><circle cx="292" cy="944.5" r="8"/><circle cx="280" cy="974.25" r="8"/><circle cx="340.7" cy="745.2" r="8"/><circle cx="340.7" cy="787" r="8"/><circle cx="340.7" cy="816.9" r="8"/></g>
<line x1="219.3" y1="843.1" x2="219.3" y2="862.9" stroke="#231815" stroke-width="2.6"/>
<line x1="209.3" y1="843.1" x2="229.3" y2="843.1" stroke="#231815" stroke-width="2.6" stroke-linecap="round"/>
<line x1="209.3" y1="862.9" x2="229.3" y2="862.9" stroke="#231815" stroke-width="2.6" stroke-linecap="round"/>
<line x1="280" y1="936.25" x2="280" y2="963" stroke="#231815" stroke-width="2.6"/>
<line x1="270" y1="936.25" x2="290" y2="936.25" stroke="#231815" stroke-width="2.6" stroke-linecap="round"/>
<line x1="270" y1="963" x2="290" y2="963" stroke="#231815" stroke-width="2.6" stroke-linecap="round"/>
<line x1="340.7" y1="762.05" x2="340.7" y2="803.9" stroke="#231815" stroke-width="2.6"/>
<line x1="330.7" y1="762.05" x2="350.7" y2="762.05" stroke="#231815" stroke-width="2.6" stroke-linecap="round"/>
<line x1="330.7" y1="803.9" x2="350.7" y2="803.9" stroke="#231815" stroke-width="2.6" stroke-linecap="round"/>
<line x1="220.45" y1="792.5" x2="275.3" y2="792.5" stroke="#000000" stroke-width="2.9" stroke-linecap="round"/>
<text transform="translate(241.84 788.74)" font-size="29">*</text>
<line x1="285.95" y1="707.5" x2="340.3" y2="707.5" stroke="#000000" stroke-width="2.9" stroke-linecap="round"/>
<text transform="translate(307.35 703.74)" font-size="29">*</text>
<text transform="translate(231.45 1087.6) rotate(-45) scale(0.9600 1)" font-size="33" text-anchor="end">WT+BSA</text>
<text transform="translate(290.1 1093) rotate(-45) scale(0.9600 1)" font-size="33" text-anchor="end">GDF11<tspan font-size="19.3" dx="0.66" dy="-9.9">KO</tspan><tspan dy="9.9">+BSA</tspan></text>
<text transform="translate(348.25 1097.1) rotate(-45) scale(0.9600 1)" font-size="33" text-anchor="end">GDF11<tspan font-size="19.3" dx="0.66" dy="-9.9">KO</tspan><tspan dy="9.9">+rGDF11</tspan></text>
<text transform="translate(563.98 621.21) scale(0.9770 1)" font-size="30.7" font-weight="bold">E</text>
<text transform="translate(688.3 1064.62) rotate(-90)" font-size="33" textLength="427.04" lengthAdjust="spacingAndGlyphs">Relative transcription of TERC</text>
<line x1="774.5" y1="646.25" x2="774.5" y2="1053" stroke="#000000" stroke-width="2.9"/>
<line x1="758.95" y1="1053" x2="774.5" y2="1053" stroke="#000000" stroke-width="2.9" stroke-linecap="round"/>
<text transform="translate(704.78 1067.17) scale(0.9900 1)" font-size="32.5">0.0</text>
<line x1="758.95" y1="917.9" x2="774.5" y2="917.9" stroke="#000000" stroke-width="2.9" stroke-linecap="round"/>
<text transform="translate(704.86 932.07) scale(0.9900 1)" font-size="32.5">0.5</text>
<line x1="758.95" y1="782.8" x2="774.5" y2="782.8" stroke="#000000" stroke-width="2.9" stroke-linecap="round"/>
<text transform="translate(704.78 796.97) scale(0.9900 1)" font-size="32.5">1.0</text>
<line x1="758.95" y1="647.7" x2="774.5" y2="647.7" stroke="#000000" stroke-width="2.9" stroke-linecap="round"/>
<text transform="translate(704.86 661.71) scale(0.9900 1)" font-size="32.5">1.5</text>
<line x1="758.95" y1="1053" x2="977.05" y2="1053" stroke="#000000" stroke-width="2.9" stroke-linecap="round"/>
<line x1="815" y1="1053" x2="815" y2="1068.55" stroke="#000000" stroke-width="2.9" stroke-linecap="round"/>
<line x1="875" y1="1053" x2="875" y2="1068.55" stroke="#000000" stroke-width="2.9" stroke-linecap="round"/>
<line x1="936.25" y1="1053" x2="936.25" y2="1068.55" stroke="#000000" stroke-width="2.9" stroke-linecap="round"/>
<rect x="796.3" y="785.25" width="36.8" height="267.75" fill="#fff" stroke="#000000" stroke-width="3"/>
<rect x="856.25" y="978.75" width="38.75" height="74.25" fill="#231815"/>
<rect x="917.95" y="998.95" width="36.4" height="54.05" fill="#fff"/>
<path d="M955.38 995.95L957.35 998.11M937.2 995.95L957.35 1017.94M919.03 995.95L957.35 1037.77M914.95 1011.34L955.88 1056M914.95 1031.17L937.7 1056M914.95 1051.01L919.53 1056" fill="none" stroke="#231815" stroke-width="3" clip-path="url(#c6)"/>
<polyline points="917.95,1053 917.95,998.95 954.35,998.95 954.35,1053" fill="none" stroke="#231815" stroke-width="2.9" stroke-linejoin="miter"/>
<g fill="#9c9c9c"><circle cx="815" cy="695.5" r="8"/><circle cx="802.5" cy="828" r="8"/><circle cx="827" cy="827.5" r="8"/><circle cx="863.75" cy="957.5" r="8"/><circle cx="887.5" cy="958.75" r="8"/><circle cx="875.5" cy="1016.75" r="8"/><circle cx="923.75" cy="997.5" r="8"/><circle cx="936.25" cy="992" r="8"/><circle cx="948" cy="995.75" r="8"/></g>
<g fill="#adadad" clip-path="url(#c7)"><circle cx="815" cy="695.5" r="8"/><circle cx="802.5" cy="828" r="8"/><circle cx="827" cy="827.5" r="8"/><circle cx="863.75" cy="957.5" r="8"/><circle cx="887.5" cy="958.75" r="8"/><circle cx="875.5" cy="1016.75" r="8"/><circle cx="923.75" cy="997.5" r="8"/><circle cx="936.25" cy="992" r="8"/><circle cx="948" cy="995.75" r="8"/></g>
<line x1="815" y1="739.25" x2="815" y2="828" stroke="#000000" stroke-width="2.9"/>
<line x1="805.15" y1="739.25" x2="824.85" y2="739.25" stroke="#000000" stroke-width="2.9" stroke-linecap="round"/>
<line x1="805.15" y1="828" x2="824.85" y2="828" stroke="#000000" stroke-width="2.9" stroke-linecap="round"/>
<line x1="875.5" y1="958.25" x2="875.5" y2="1000" stroke="#231815" stroke-width="2.6"/>
<line x1="865.5" y1="958.25" x2="885.5" y2="958.25" stroke="#231815" stroke-width="2.6" stroke-linecap="round"/>
<line x1="865.5" y1="1000" x2="885.5" y2="1000" stroke="#231815" stroke-width="2.6" stroke-linecap="round"/>
<line x1="936.25" y1="992.5" x2="936.25" y2="997.5" stroke="#231815" stroke-width="2.6"/>
<line x1="926.25" y1="992.5" x2="946.25" y2="992.5" stroke="#231815" stroke-width="2.6" stroke-linecap="round"/>
<line x1="926.25" y1="997.5" x2="946.25" y2="997.5" stroke="#231815" stroke-width="2.6" stroke-linecap="round"/>
<line x1="815.45" y1="667.5" x2="869.8" y2="667.5" stroke="#000000" stroke-width="2.9" stroke-linecap="round"/>
<text transform="translate(836.35 663.24)" font-size="29">*</text>
<line x1="880.95" y1="924.25" x2="935.3" y2="924.25" stroke="#000000" stroke-width="2.9" stroke-linecap="round"/>
<text transform="translate(891.39 909.99)" font-size="31">ns</text>
<text transform="translate(821.2 1083.1) rotate(-45) scale(0.9550 1)" font-size="33" text-anchor="end">WT+BSA</text>
<text transform="translate(887.6 1091.7) rotate(-45) scale(0.9550 1)" font-size="33" text-anchor="end">GDF11<tspan font-size="19.3" dx="0.66" dy="-9.9">KO</tspan><tspan dy="9.9">+BSA</tspan></text>
<text transform="translate(942.75 1094.1) rotate(-45) scale(0.9550 1)" font-size="33" text-anchor="end">GDF11<tspan font-size="19.3" dx="0.66" dy="-9.9">KO</tspan><tspan dy="9.9">+rGDF11</tspan></text>
<text transform="translate(1250.98 621.21) scale(0.9770 1)" font-size="30.7" font-weight="bold">F</text>
<text transform="translate(1330.5 1052.08) rotate(-90)" font-size="33" textLength="380.84" lengthAdjust="spacingAndGlyphs">Relative telomerase activity</text>
<line x1="1420.75" y1="645.65" x2="1420.75" y2="1053" stroke="#000000" stroke-width="2.9"/>
<line x1="1405.2" y1="1053" x2="1420.75" y2="1053" stroke="#000000" stroke-width="2.9" stroke-linecap="round"/>
<text transform="translate(1353.48 1067.77) scale(0.9900 1)" font-size="32.5">0.0</text>
<line x1="1405.2" y1="917.7" x2="1420.75" y2="917.7" stroke="#000000" stroke-width="2.9" stroke-linecap="round"/>
<text transform="translate(1353.56 932.47) scale(0.9900 1)" font-size="32.5">0.5</text>
<line x1="1405.2" y1="782.4" x2="1420.75" y2="782.4" stroke="#000000" stroke-width="2.9" stroke-linecap="round"/>
<text transform="translate(1353.48 797.17) scale(0.9900 1)" font-size="32.5">1.0</text>
<line x1="1405.2" y1="647.1" x2="1420.75" y2="647.1" stroke="#000000" stroke-width="2.9" stroke-linecap="round"/>
<text transform="translate(1353.56 661.71) scale(0.9900 1)" font-size="32.5">1.5</text>
<line x1="1404.05" y1="1053" x2="1622.8" y2="1053" stroke="#000000" stroke-width="2.9" stroke-linecap="round"/>
<line x1="1460" y1="1053" x2="1460" y2="1069.05" stroke="#000000" stroke-width="2.9" stroke-linecap="round"/>
<line x1="1520.75" y1="1053" x2="1520.75" y2="1069.05" stroke="#000000" stroke-width="2.9" stroke-linecap="round"/>
<line x1="1582" y1="1053" x2="1582" y2="1069.05" stroke="#000000" stroke-width="2.9" stroke-linecap="round"/>
<rect x="1442.5" y="785.25" width="36.8" height="267.75" fill="#fff" stroke="#000000" stroke-width="3"/>
<rect x="1502" y="972.5" width="38.75" height="80.5" fill="#231815"/>
<rect x="1563.65" y="1012.2" width="36.9" height="40.8" fill="#fff"/>
<path d="M1601.08 1009.2L1603.55 1011.9M1582.9 1009.2L1603.55 1031.74M1564.73 1009.2L1603.55 1051.57M1560.65 1024.59L1589.43 1056M1560.65 1044.42L1571.26 1056" fill="none" stroke="#231815" stroke-width="3" clip-path="url(#c8)"/>
<polyline points="1563.65,1053 1563.65,1012.2 1600.55,1012.2 1600.55,1053" fill="none" stroke="#231815" stroke-width="2.9" stroke-linejoin="miter"/>
<g fill="#9c9c9c"><circle cx="1460.5" cy="743.25" r="8"/><circle cx="1460.5" cy="780" r="8"/><circle cx="1460.5" cy="827.5" r="8"/><circle cx="1521.25" cy="948.75" r="8"/><circle cx="1521.25" cy="975.75" r="8"/><circle cx="1521.25" cy="991.25" r="8"/><circle cx="1582" cy="996.25" r="8"/><circle cx="1570" cy="1019.5" r="8"/><circle cx="1594.25" cy="1012.5" r="8"/></g>
<g fill="#adadad" clip-path="url(#c9)"><circle cx="1460.5" cy="743.25" r="8"/><circle cx="1460.5" cy="780" r="8"/><circle cx="1460.5" cy="827.5" r="8"/><circle cx="1521.25" cy="948.75" r="8"/><circle cx="1521.25" cy="975.75" r="8"/><circle cx="1521.25" cy="991.25" r="8"/><circle cx="1582" cy="996.25" r="8"/><circle cx="1570" cy="1019.5" r="8"/><circle cx="1594.25" cy="1012.5" r="8"/></g>
<line x1="1460.5" y1="758.25" x2="1460.5" y2="808" stroke="#000000" stroke-width="2.9"/>
<line x1="1450.65" y1="758.25" x2="1470.35" y2="758.25" stroke="#000000" stroke-width="2.9" stroke-linecap="round"/>
<line x1="1450.65" y1="808" x2="1470.35" y2="808" stroke="#000000" stroke-width="2.9" stroke-linecap="round"/>
<line x1="1521.25" y1="959.25" x2="1521.25" y2="985" stroke="#231815" stroke-width="2.6"/>
<line x1="1511.25" y1="959.25" x2="1531.25" y2="959.25" stroke="#231815" stroke-width="2.6" stroke-linecap="round"/>
<line x1="1511.25" y1="985" x2="1531.25" y2="985" stroke="#231815" stroke-width="2.6" stroke-linecap="round"/>
<line x1="1582" y1="1002" x2="1582" y2="1016.75" stroke="#231815" stroke-width="2.6"/>
<line x1="1572" y1="1002" x2="1592" y2="1002" stroke="#231815" stroke-width="2.6" stroke-linecap="round"/>
<line x1="1572" y1="1016.75" x2="1592" y2="1016.75" stroke="#231815" stroke-width="2.6" stroke-linecap="round"/>
<line x1="1461.7" y1="713.75" x2="1516.55" y2="713.75" stroke="#000000" stroke-width="2.9" stroke-linecap="round"/>
<text transform="translate(1483.6 709.24)" font-size="29">*</text>
<line x1="1527.2" y1="913.75" x2="1582.05" y2="913.75" stroke="#000000" stroke-width="2.9" stroke-linecap="round"/>
<text transform="translate(1537.64 899.49)" font-size="31">ns</text>
<text transform="translate(1470.9 1087.4) rotate(-45) scale(0.9550 1)" font-size="33" text-anchor="end">WT+BSA</text>
<text transform="translate(1529.35 1095.4) rotate(-45) scale(0.9550 1)" font-size="33" text-anchor="end">GDF11<tspan font-size="19.3" dx="0.66" dy="-9.9">KO</tspan><tspan dy="9.9">+BSA</tspan></text>
<text transform="translate(1592 1098.1) rotate(-45) scale(0.9550 1)" font-size="33" text-anchor="end">GDF11<tspan font-size="19.3" dx="0.66" dy="-9.9">KO</tspan><tspan dy="9.9">+rGDF11</tspan></text>
<text transform="translate(1.3 1332.71) scale(0.9770 1)" font-size="30.7" font-weight="bold">G</text>
<text transform="translate(89.3 1775.01) rotate(-90)" font-size="32.5" textLength="422" lengthAdjust="spacingAndGlyphs">Relative transcription of GDF11</text>
<line x1="178" y1="1359.05" x2="178" y2="1537" stroke="#000000" stroke-width="2.9"/>
<line x1="164.95" y1="1360.5" x2="178" y2="1360.5" stroke="#000000" stroke-width="2.9" stroke-linecap="round"/>
<text transform="translate(99.62 1372.67) scale(0.9850 1)" font-size="32.5">650</text>
<line x1="164.95" y1="1405" x2="178" y2="1405" stroke="#000000" stroke-width="2.9" stroke-linecap="round"/>
<text transform="translate(99.62 1417.17) scale(0.9850 1)" font-size="32.5">500</text>
<line x1="164.95" y1="1449.4" x2="178" y2="1449.4" stroke="#000000" stroke-width="2.9" stroke-linecap="round"/>
<text transform="translate(99.62 1461.57) scale(0.9850 1)" font-size="32.5">350</text>
<line x1="164.95" y1="1493.7" x2="178" y2="1493.7" stroke="#000000" stroke-width="2.9" stroke-linecap="round"/>
<text transform="translate(99.62 1505.87) scale(0.9850 1)" font-size="32.5">200</text>
<text transform="translate(120.27 1544.87) scale(0.9850 1)" font-size="32.5">50</text>
<line x1="165.19" y1="1524.36" x2="190.01" y2="1550.94" stroke="#000000" stroke-width="2.9" stroke-linecap="round"/>
<line x1="165.17" y1="1570.68" x2="190.03" y2="1598.22" stroke="#000000" stroke-width="2.9" stroke-linecap="round"/>
<line x1="178" y1="1585" x2="178" y2="1763" stroke="#000000" stroke-width="2.9"/>
<line x1="168.25" y1="1644.3" x2="178" y2="1644.3" stroke="#000000" stroke-width="2.9" stroke-linecap="round"/>
<text transform="translate(117.58 1655.9) scale(0.9800 1)" font-size="31.7">1.0</text>
<line x1="168.25" y1="1703.6" x2="178" y2="1703.6" stroke="#000000" stroke-width="2.9" stroke-linecap="round"/>
<text transform="translate(117.66 1715.2) scale(0.9800 1)" font-size="31.7">0.5</text>
<line x1="168.25" y1="1763" x2="178" y2="1763" stroke="#000000" stroke-width="2.9" stroke-linecap="round"/>
<text transform="translate(117.58 1774.6) scale(0.9800 1)" font-size="31.7">0.0</text>
<text transform="translate(117.66 1598.34) scale(0.9800 1)" font-size="31.7">1.5</text>
<line x1="167.45" y1="1763" x2="377.55" y2="1763" stroke="#000000" stroke-width="2.9" stroke-linecap="round"/>
<line x1="217" y1="1764.45" x2="217" y2="1773.05" stroke="#000000" stroke-width="2.9" stroke-linecap="round"/>
<line x1="277" y1="1764.45" x2="277" y2="1773.05" stroke="#000000" stroke-width="2.9" stroke-linecap="round"/>
<line x1="337.5" y1="1764.45" x2="337.5" y2="1773.05" stroke="#000000" stroke-width="2.9" stroke-linecap="round"/>
<rect x="200" y="1647.5" width="34.5" height="115.5" fill="#fff" stroke="#000000" stroke-width="3"/>
<rect x="260" y="1751" width="34" height="12" fill="#231815"/>
<rect x="322.45" y="1421.05" width="31.7" height="115.95" fill="#fff"/>
<path d="M349.34 1418.05L357.15 1426.58M331.16 1418.05L357.15 1446.41M319.45 1425.1L357.15 1466.25M319.45 1444.94L357.15 1486.08M319.45 1464.77L357.15 1505.91M319.45 1484.61L357.15 1525.75M319.45 1504.44L352.03 1540M319.45 1524.28L333.86 1540" fill="none" stroke="#231815" stroke-width="3" clip-path="url(#c10)"/>
<polyline points="322.45,1537 322.45,1421.05 354.15,1421.05 354.15,1537" fill="none" stroke="#231815" stroke-width="2.9" stroke-linejoin="miter"/>
<rect x="322.45" y="1585" width="31.7" height="178" fill="#fff"/>
<path d="M346.86 1582L357.15 1593.23M328.69 1582L357.15 1613.06M319.45 1591.75L357.15 1632.9M319.45 1611.59L357.15 1652.73M319.45 1631.42L357.15 1672.56M319.45 1651.26L357.15 1692.4M319.45 1671.09L357.15 1712.23M319.45 1690.93L357.15 1732.07M319.45 1710.76L357.15 1751.9M319.45 1730.59L351.89 1766M319.45 1750.43L333.72 1766" fill="none" stroke="#231815" stroke-width="3" clip-path="url(#c11)"/>
<line x1="322.45" y1="1585" x2="322.45" y2="1763" stroke="#231815" stroke-width="2.9"/>
<line x1="354.15" y1="1585" x2="354.15" y2="1763" stroke="#231815" stroke-width="2.9"/>
<g fill="#9c9c9c"><circle cx="217" cy="1612" r="10"/><circle cx="228" cy="1656.25" r="10"/><circle cx="207" cy="1668.75" r="10"/><circle cx="266.25" cy="1752.5" r="10"/><circle cx="277.5" cy="1752" r="10"/><circle cx="288.75" cy="1752.5" r="10"/><circle cx="328" cy="1400" r="10"/><circle cx="348" cy="1410" r="10"/><circle cx="338" cy="1445" r="10"/></g>
<line x1="217" y1="1626.25" x2="217" y2="1662.5" stroke="#000000" stroke-width="2.9"/>
<line x1="207.15" y1="1626.25" x2="226.85" y2="1626.25" stroke="#000000" stroke-width="2.9" stroke-linecap="round"/>
<line x1="207.15" y1="1662.5" x2="226.85" y2="1662.5" stroke="#000000" stroke-width="2.9" stroke-linecap="round"/>
<line x1="267.3" y1="1753" x2="287.7" y2="1753" stroke="#231815" stroke-width="2.6" stroke-linecap="round"/>
<line x1="338.75" y1="1402.5" x2="338.75" y2="1431.25" stroke="#231815" stroke-width="2.6"/>
<line x1="328.75" y1="1402.5" x2="348.75" y2="1402.5" stroke="#231815" stroke-width="2.6" stroke-linecap="round"/>
<line x1="328.75" y1="1431.25" x2="348.75" y2="1431.25" stroke="#231815" stroke-width="2.6" stroke-linecap="round"/>
<line x1="215.45" y1="1571.75" x2="285.3" y2="1571.75" stroke="#000000" stroke-width="2.9" stroke-linecap="round"/>
<text transform="translate(235.59 1564.94)" font-size="29" letter-spacing="1.2">**</text>
<line x1="269.7" y1="1343.25" x2="336.55" y2="1343.25" stroke="#000000" stroke-width="2.9" stroke-linecap="round"/>
<text transform="translate(288.09 1338.24)" font-size="29" letter-spacing="1.2">**</text>
<text transform="translate(223.7 1800.4) rotate(-45) scale(0.9600 1)" font-size="33" text-anchor="end">WT</text>
<text transform="translate(285.5 1809) rotate(-45) scale(0.9600 1)" font-size="33" text-anchor="end">GDF11<tspan font-size="19.3" dx="0.66" dy="-9.9">KO</tspan></text>
<text transform="translate(347 1809.5) rotate(-45) scale(0.9600 1)" font-size="33" text-anchor="end">GDF11<tspan font-size="19.3" dx="0.66" dy="-9.9">KO</tspan><tspan dy="9.9">+GDF11</tspan><tspan font-size="19.3" dx="0.66" dy="-9.9">OE</tspan></text>
<text transform="translate(564.28 1332.61) scale(0.9770 1)" font-size="30.7" font-weight="bold">H</text>
<text transform="translate(688.75 1764.52) rotate(-90)" font-size="30.5" textLength="406.45" lengthAdjust="spacingAndGlyphs">Relative transcription of TERT</text>
<line x1="778.8" y1="1355.85" x2="778.8" y2="1761.1" stroke="#000000" stroke-width="2.9"/>
<line x1="766.05" y1="1761.1" x2="778.8" y2="1761.1" stroke="#000000" stroke-width="2.9" stroke-linecap="round"/>
<text transform="translate(709.8 1774.77) scale(0.9850 1)" font-size="32.5">0.0</text>
<line x1="766.05" y1="1660.15" x2="778.8" y2="1660.15" stroke="#000000" stroke-width="2.9" stroke-linecap="round"/>
<text transform="translate(709.96 1668.82) scale(0.9850 1)" font-size="32.5">0.3</text>
<line x1="766.05" y1="1559.2" x2="778.8" y2="1559.2" stroke="#000000" stroke-width="2.9" stroke-linecap="round"/>
<text transform="translate(709.96 1570.37) scale(0.9850 1)" font-size="32.5">0.6</text>
<line x1="766.05" y1="1458.25" x2="778.8" y2="1458.25" stroke="#000000" stroke-width="2.9" stroke-linecap="round"/>
<text transform="translate(710.04 1469.42) scale(0.9850 1)" font-size="32.5">0.9</text>
<line x1="766.05" y1="1357.3" x2="778.8" y2="1357.3" stroke="#000000" stroke-width="2.9" stroke-linecap="round"/>
<text transform="translate(710.2 1371.83) scale(0.9850 1)" font-size="32.5">1.2</text>
<line x1="765.95" y1="1761.1" x2="978.55" y2="1761.1" stroke="#000000" stroke-width="2.9" stroke-linecap="round"/>
<line x1="818.25" y1="1761.1" x2="818.25" y2="1773.55" stroke="#000000" stroke-width="2.9" stroke-linecap="round"/>
<line x1="878.25" y1="1761.1" x2="878.25" y2="1773.55" stroke="#000000" stroke-width="2.9" stroke-linecap="round"/>
<line x1="938.75" y1="1761.1" x2="938.75" y2="1773.55" stroke="#000000" stroke-width="2.9" stroke-linecap="round"/>
<rect x="800.8" y="1427.25" width="34.7" height="333.85" fill="#fff" stroke="#000000" stroke-width="3"/>
<rect x="861.25" y="1637.5" width="34.5" height="123.6" fill="#231815"/>
<rect x="923.25" y="1513.45" width="31.8" height="247.65" fill="#fff"/>
<path d="M946.5 1510.45L958.05 1523.06M928.32 1510.45L958.05 1542.89M920.25 1521.47L958.05 1562.73M920.25 1541.31L958.05 1582.56M920.25 1561.14L958.05 1602.4M920.25 1580.98L958.05 1622.23M920.25 1600.81L958.05 1642.06M920.25 1620.65L958.05 1661.9M920.25 1640.48L958.05 1681.73M920.25 1660.32L958.05 1701.57M920.25 1680.15L958.05 1721.4M920.25 1699.99L958.05 1741.24M920.25 1719.82L958.05 1761.07M920.25 1739.65L942.65 1764.1M920.25 1759.49L924.48 1764.1" fill="none" stroke="#231815" stroke-width="3" clip-path="url(#c12)"/>
<polyline points="923.25,1761.1 923.25,1513.45 955.05,1513.45 955.05,1761.1" fill="none" stroke="#231815" stroke-width="2.9" stroke-linejoin="miter"/>
<g fill="#9c9c9c"><ellipse cx="818.25" cy="1373.25" rx="9.5" ry="10.9"/><ellipse cx="818.25" cy="1408.75" rx="9.5" ry="10.9"/><ellipse cx="818.25" cy="1489.25" rx="9.5" ry="10.9"/><ellipse cx="868.75" cy="1620.75" rx="9.5" ry="10.9"/><ellipse cx="889.25" cy="1629.25" rx="9.5" ry="10.9"/><ellipse cx="868.75" cy="1645" rx="9.5" ry="10.9"/><ellipse cx="938.75" cy="1460" rx="9.5" ry="10.9"/><ellipse cx="929.25" cy="1535.75" rx="9.5" ry="10.9"/><ellipse cx="948.75" cy="1533.75" rx="9.5" ry="10.9"/></g>
<g fill="#adadad" clip-path="url(#c13)"><ellipse cx="818.25" cy="1373.25" rx="9.5" ry="10.9"/><ellipse cx="818.25" cy="1408.75" rx="9.5" ry="10.9"/><ellipse cx="818.25" cy="1489.25" rx="9.5" ry="10.9"/><ellipse cx="868.75" cy="1620.75" rx="9.5" ry="10.9"/><ellipse cx="889.25" cy="1629.25" rx="9.5" ry="10.9"/><ellipse cx="868.75" cy="1645" rx="9.5" ry="10.9"/><ellipse cx="938.75" cy="1460" rx="9.5" ry="10.9"/><ellipse cx="929.25" cy="1535.75" rx="9.5" ry="10.9"/><ellipse cx="948.75" cy="1533.75" rx="9.5" ry="10.9"/></g>
<line x1="818.25" y1="1389.25" x2="818.25" y2="1458.75" stroke="#000000" stroke-width="2.9"/>
<line x1="808.9" y1="1389.25" x2="827.6" y2="1389.25" stroke="#000000" stroke-width="2.9" stroke-linecap="round"/>
<line x1="808.9" y1="1458.75" x2="827.6" y2="1458.75" stroke="#000000" stroke-width="2.9" stroke-linecap="round"/>
<line x1="878.25" y1="1631.25" x2="878.25" y2="1645.75" stroke="#231815" stroke-width="2.6"/>
<line x1="868.75" y1="1631.25" x2="887.75" y2="1631.25" stroke="#231815" stroke-width="2.6" stroke-linecap="round"/>
<line x1="868.75" y1="1645.75" x2="887.75" y2="1645.75" stroke="#231815" stroke-width="2.6" stroke-linecap="round"/>
<line x1="939.25" y1="1483.75" x2="939.25" y2="1535" stroke="#231815" stroke-width="2.6"/>
<line x1="929.75" y1="1483.75" x2="948.75" y2="1483.75" stroke="#231815" stroke-width="2.6" stroke-linecap="round"/>
<line x1="929.75" y1="1535" x2="948.75" y2="1535" stroke="#231815" stroke-width="2.6" stroke-linecap="round"/>
<line x1="818.45" y1="1333" x2="885.3" y2="1333" stroke="#000000" stroke-width="2.9" stroke-linecap="round"/>
<text transform="translate(836.09 1329.24)" font-size="29" letter-spacing="1.2">**</text>
<line x1="870.2" y1="1420" x2="939.55" y2="1420" stroke="#000000" stroke-width="2.9" stroke-linecap="round"/>
<text transform="translate(897.6 1411.94)" font-size="29">*</text>
<text transform="translate(821.55 1803) rotate(-45) scale(0.9600 1)" font-size="33" text-anchor="end">WT</text>
<text transform="translate(885.35 1807.6) rotate(-45) scale(0.9600 1)" font-size="33" text-anchor="end">GDF11<tspan font-size="19.3" dx="0.66" dy="-9.9">KO</tspan></text>
<text transform="translate(947.15 1807.3) rotate(-45) scale(0.9600 1)" font-size="33" text-anchor="end">GDF11<tspan font-size="19.3" dx="0.66" dy="-9.9">KO</tspan><tspan dy="9.9">+GDF11</tspan><tspan font-size="19.3" dx="0.66" dy="-9.9">OE</tspan></text>
<text transform="translate(1250.98 1332.61) scale(0.9770 1)" font-size="30.7" font-weight="bold">I</text>
<text transform="translate(1331.25 1765.51) rotate(-90)" font-size="30.5" textLength="408.62" lengthAdjust="spacingAndGlyphs">Relative transcription of TERC</text>
<line x1="1425" y1="1359.35" x2="1425" y2="1763.4" stroke="#000000" stroke-width="2.9"/>
<line x1="1414.45" y1="1763.4" x2="1425" y2="1763.4" stroke="#000000" stroke-width="2.9" stroke-linecap="round"/>
<text transform="translate(1359.7 1774.57) scale(0.9850 1)" font-size="32.5">0.0</text>
<line x1="1414.45" y1="1662.75" x2="1425" y2="1662.75" stroke="#000000" stroke-width="2.9" stroke-linecap="round"/>
<text transform="translate(1359.86 1673.92) scale(0.9850 1)" font-size="32.5">0.3</text>
<line x1="1414.45" y1="1562.1" x2="1425" y2="1562.1" stroke="#000000" stroke-width="2.9" stroke-linecap="round"/>
<text transform="translate(1359.86 1573.27) scale(0.9850 1)" font-size="32.5">0.6</text>
<line x1="1414.45" y1="1461.45" x2="1425" y2="1461.45" stroke="#000000" stroke-width="2.9" stroke-linecap="round"/>
<text transform="translate(1359.94 1472.62) scale(0.9850 1)" font-size="32.5">0.9</text>
<line x1="1414.45" y1="1360.8" x2="1425" y2="1360.8" stroke="#000000" stroke-width="2.9" stroke-linecap="round"/>
<text transform="translate(1360.1 1372.13) scale(0.9850 1)" font-size="32.5">1.2</text>
<line x1="1414.45" y1="1763.4" x2="1622.8" y2="1763.4" stroke="#000000" stroke-width="2.9" stroke-linecap="round"/>
<line x1="1463.75" y1="1763.4" x2="1463.75" y2="1776.05" stroke="#000000" stroke-width="2.9" stroke-linecap="round"/>
<line x1="1523.25" y1="1763.4" x2="1523.25" y2="1776.05" stroke="#000000" stroke-width="2.9" stroke-linecap="round"/>
<line x1="1583.75" y1="1763.4" x2="1583.75" y2="1776.05" stroke="#000000" stroke-width="2.9" stroke-linecap="round"/>
<rect x="1446.3" y="1431" width="34.5" height="332.4" fill="#fff" stroke="#000000" stroke-width="3"/>
<rect x="1506.25" y="1732.5" width="34.5" height="30.9" fill="#231815"/>
<rect x="1567.45" y="1723.95" width="32.6" height="39.45" fill="#fff"/>
<path d="M1598.28 1720.95L1603.05 1726.16M1580.1 1720.95L1603.05 1745.99M1564.45 1723.7L1603.05 1765.83M1564.45 1743.54L1585.4 1766.4M1564.45 1763.37L1567.22 1766.4" fill="none" stroke="#231815" stroke-width="3" clip-path="url(#c14)"/>
<polyline points="1567.45,1763.4 1567.45,1723.95 1600.05,1723.95 1600.05,1763.4" fill="none" stroke="#231815" stroke-width="2.9" stroke-linejoin="miter"/>
<g fill="#9c9c9c"><ellipse cx="1463.75" cy="1371.25" rx="9.5" ry="10.8"/><ellipse cx="1453.75" cy="1461.25" rx="9.5" ry="10.8"/><ellipse cx="1473.75" cy="1457" rx="9.5" ry="10.8"/><ellipse cx="1513.75" cy="1733.25" rx="9.5" ry="10.8"/><ellipse cx="1523.75" cy="1726.25" rx="9.5" ry="10.8"/><ellipse cx="1533.75" cy="1728.75" rx="9.5" ry="10.8"/><ellipse cx="1573.75" cy="1726.25" rx="9.5" ry="10.8"/><ellipse cx="1583.75" cy="1716.25" rx="9.5" ry="10.8"/><ellipse cx="1593.75" cy="1718" rx="9.5" ry="10.8"/></g>
<g fill="#adadad" clip-path="url(#c15)"><ellipse cx="1463.75" cy="1371.25" rx="9.5" ry="10.8"/><ellipse cx="1453.75" cy="1461.25" rx="9.5" ry="10.8"/><ellipse cx="1473.75" cy="1457" rx="9.5" ry="10.8"/><ellipse cx="1513.75" cy="1733.25" rx="9.5" ry="10.8"/><ellipse cx="1523.75" cy="1726.25" rx="9.5" ry="10.8"/><ellipse cx="1533.75" cy="1728.75" rx="9.5" ry="10.8"/><ellipse cx="1573.75" cy="1726.25" rx="9.5" ry="10.8"/><ellipse cx="1583.75" cy="1716.25" rx="9.5" ry="10.8"/><ellipse cx="1593.75" cy="1718" rx="9.5" ry="10.8"/></g>
<line x1="1463.75" y1="1397" x2="1463.75" y2="1458.25" stroke="#000000" stroke-width="2.9"/>
<line x1="1454.4" y1="1397" x2="1473.1" y2="1397" stroke="#000000" stroke-width="2.9" stroke-linecap="round"/>
<line x1="1454.4" y1="1458.25" x2="1473.1" y2="1458.25" stroke="#000000" stroke-width="2.9" stroke-linecap="round"/>
<line x1="1523.75" y1="1725.5" x2="1523.75" y2="1730.5" stroke="#231815" stroke-width="3"/>
<line x1="1514.45" y1="1725.5" x2="1533.05" y2="1725.5" stroke="#231815" stroke-width="3" stroke-linecap="round"/>
<line x1="1514.45" y1="1730.5" x2="1533.05" y2="1730.5" stroke="#231815" stroke-width="3" stroke-linecap="round"/>
<line x1="1583.75" y1="1715.75" x2="1583.75" y2="1722.5" stroke="#231815" stroke-width="3"/>
<line x1="1574.45" y1="1715.75" x2="1593.05" y2="1715.75" stroke="#231815" stroke-width="3" stroke-linecap="round"/>
<line x1="1574.45" y1="1722.5" x2="1593.05" y2="1722.5" stroke="#231815" stroke-width="3" stroke-linecap="round"/>
<line x1="1460.2" y1="1335.75" x2="1527.05" y2="1335.75" stroke="#000000" stroke-width="2.9" stroke-linecap="round"/>
<text transform="translate(1478.84 1331.74)" font-size="29" letter-spacing="1.2">**</text>
<line x1="1520.95" y1="1675.5" x2="1590.3" y2="1675.5" stroke="#000000" stroke-width="2.9" stroke-linecap="round"/>
<text transform="translate(1534.39 1654.99)" font-size="31">ns</text>
<text transform="translate(1471.45 1803) rotate(-45) scale(0.9600 1)" font-size="33" text-anchor="end">WT</text>
<text transform="translate(1535.05 1810) rotate(-45) scale(0.9600 1)" font-size="33" text-anchor="end">GDF11<tspan font-size="19.3" dx="0.66" dy="-9.9">KO</tspan></text>
<text transform="translate(1596.65 1809.7) rotate(-45) scale(0.9600 1)" font-size="33" text-anchor="end">GDF11<tspan font-size="19.3" dx="0.66" dy="-9.9">KO</tspan><tspan dy="9.9">+GDF11</tspan><tspan font-size="19.3" dx="0.66" dy="-9.9">OE</tspan></text>
</svg>
</body></html>
